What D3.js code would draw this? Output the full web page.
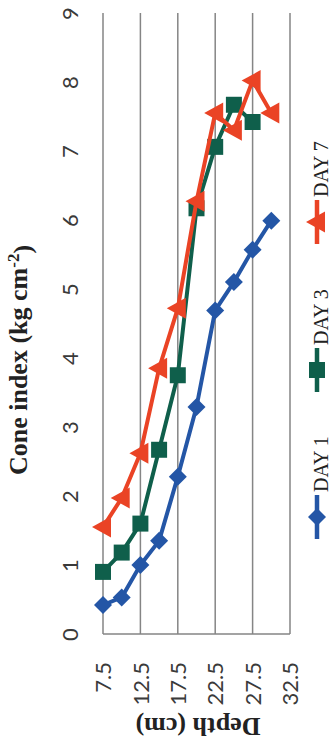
<!DOCTYPE html>
<html>
<head>
<meta charset="utf-8">
<script src="https://cdn.jsdelivr.net/npm/d3@7"></script>
<style>
html,body{margin:0;padding:0;background:#fff;}
svg{display:block;}
</style>
</head>
<body>
<svg id="chart" width="333" height="746"></svg>
<script>
// ---- data ----
const depths = [7.5, 10, 12.5, 15, 17.5, 20, 22.5, 25, 27.5, 30];
const day1 = [0.42, 0.53, 1.0, 1.35, 2.28, 3.29, 4.69, 5.1, 5.57, 5.99];
const day3 = [0.9, 1.18, 1.6, 2.67, 3.75, 6.17, 7.06, 7.67, 7.42];
const day7 = [1.55, 1.97, 2.62, 3.85, 4.72, 6.27, 7.55, 7.3, 8.02, 7.55];
const depthTicks = [7.5, 12.5, 17.5, 22.5, 27.5, 32.5];
const coneTicks = [0, 1, 2, 3, 4, 5, 6, 7, 8, 9];
const seriesNames = ["DAY 1", "DAY 3", "DAY 7"];

const seriesList = [
  {name: seriesNames[0], values: day1, color: "#2456a6", shape: "diamond"},
  {name: seriesNames[1], values: day3, color: "#0f5f4b", shape: "square"},
  {name: seriesNames[2], values: day7, color: "#ea4325", shape: "triangle"}
];

const svg = d3.select("#chart");
svg.append("rect").attr("width", 333).attr("height", 746).attr("fill", "#fff");

const x = d3.scaleLinear().domain([7.5, 32.5]).range([103, 290]);
const y = d3.scaleLinear().domain([0, 9]).range([634, 13]);

const gridColor = "#858585";
svg.append("g").selectAll("line").data(depthTicks).join("line")
  .attr("x1", d => x(d)).attr("x2", d => x(d))
  .attr("y1", y(0)).attr("y2", y(9))
  .attr("stroke", gridColor).attr("stroke-width", 1.5);
svg.append("line")
  .attr("x1", x(7.5)).attr("x2", x(32.5))
  .attr("y1", y(0)).attr("y2", y(0))
  .attr("stroke", gridColor).attr("stroke-width", 1.5);

const xAxis = svg.append("g").attr("transform", `translate(0,${y(0)})`)
  .call(d3.axisBottom(x).tickValues(depthTicks).tickSize(0).tickFormat(d3.format(".1f")));
xAxis.select(".domain").remove();
xAxis.selectAll("text")
  .attr("x", -28).attr("y", 0).attr("dy", "0.35em")
  .attr("transform", "rotate(-90)")
  .style("text-anchor", "end")
  .style("font-family", "Lato, 'Open Sans', sans-serif")
  .style("font-size", "22px").attr("fill", "#3a3a3a");

const yAxis = svg.append("g").attr("transform", `translate(${x(7.5)},0)`)
  .call(d3.axisLeft(y).tickValues(coneTicks).tickSize(0).tickFormat(d3.format("d")));
yAxis.select(".domain").remove();
yAxis.selectAll("text")
  .attr("x", 0).attr("y", -33).attr("dy", "0.35em")
  .attr("transform", "rotate(-90)")
  .style("text-anchor", "middle")
  .style("font-family", "Lato, 'Open Sans', sans-serif")
  .style("font-size", "22px").attr("fill", "#3a3a3a");

svg.append("text")
  .attr("transform", "translate(18,360) rotate(-90)")
  .attr("text-anchor", "middle").attr("dy", "0.35em")
  .style("font-family", "'Liberation Serif', 'Times New Roman', serif")
  .style("font-weight", "bold").style("font-size", "26px").attr("fill", "#222")
  .call(t => {
    t.append("tspan").text("Cone index (kg cm");
    t.append("tspan").attr("dy", "-0.45em").style("font-size", "17px").text("-2");
    t.append("tspan").attr("dy", "0.45em").text(")");
  });

svg.append("text")
  .attr("transform", "translate(198,727) rotate(180)")
  .attr("text-anchor", "middle").attr("dy", "0.35em")
  .style("font-family", "'Liberation Serif', 'Times New Roman', serif")
  .style("font-weight", "bold").style("font-size", "26px").attr("fill", "#222")
  .text("Depth (cm)");

function markerPath(shape) {
  if (shape === "diamond") return "M0,-9L9,0L0,9L-9,0Z";
  if (shape === "square") return "M-8,-8H8V8H-8Z";
  return "M-11,0L8,-10.5L8,10.5Z";
}

const line = d3.line().x(d => x(d.depth)).y(d => y(d.value));

seriesList.forEach(s => {
  const pts = s.values.map((v, i) => ({depth: depths[i], value: v}));
  const g = svg.append("g");
  g.append("path").datum(pts)
    .attr("d", line).attr("fill", "none")
    .attr("stroke", s.color).attr("stroke-width", 4)
    .attr("stroke-linejoin", "round");
  g.selectAll("path.m").data(pts).join("path").attr("class", "m")
    .attr("transform", d => `translate(${x(d.depth)},${y(d.value)})`)
    .attr("d", markerPath(s.shape)).attr("fill", s.color);
});

const legendY = [517, 370, 222];
seriesList.forEach((s, i) => {
  const yc = legendY[i];
  const g = svg.append("g");
  g.append("line").attr("x1", 317).attr("x2", 317)
    .attr("y1", yc - 22).attr("y2", yc + 22)
    .attr("stroke", s.color).attr("stroke-width", 4.5);
  g.append("path").attr("transform", `translate(317,${yc})`)
    .attr("d", markerPath(s.shape)).attr("fill", s.color);
  g.append("text")
    .attr("transform", `translate(321,${yc - 25}) rotate(-90)`)
    .attr("dy", "0.35em")
    .style("font-family", "'Liberation Serif', 'Times New Roman', serif")
    .style("font-size", "20px").attr("fill", "#222")
    .text(s.name);
});
</script>
</body>
</html>
